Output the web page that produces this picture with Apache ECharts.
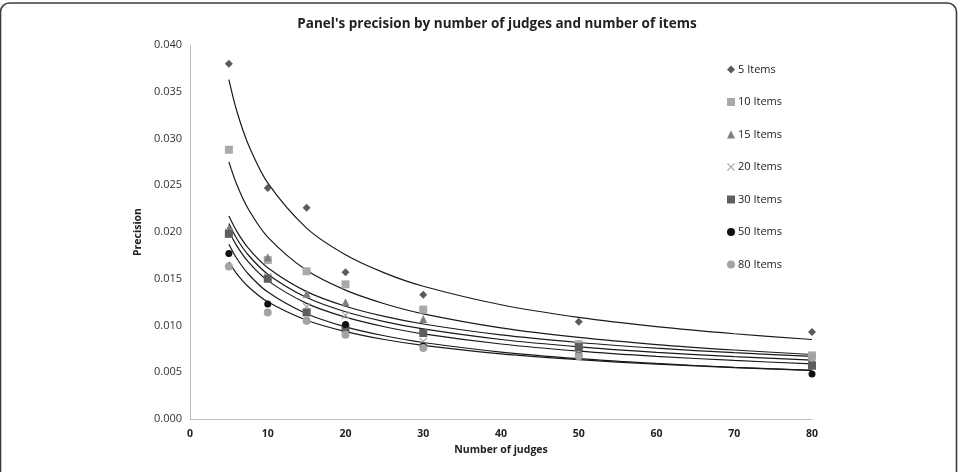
<!DOCTYPE html>
<html>
<head>
<meta charset="utf-8">
<script src="https://cdn.jsdelivr.net/npm/echarts@6/dist/echarts.min.js"></script>
<style>
  html, body { margin: 0; padding: 0; background: #fff; }
  #main { width: 963px; height: 472px; }
</style>
</head>
<body>
<div id="main"></div>
<script>
// number of judges where panels were measured
var judges = [5, 10, 15, 20, 30, 50, 80];

// measured precision, one list per number of items
var items5  = [0.0380, 0.0247, 0.0226, 0.0157, 0.0133, 0.0104, 0.0093];
var items10 = [0.0288, 0.0170, 0.0158, 0.0144, 0.0117, 0.0080, 0.0068];
var items15 = [0.0204, 0.0173, 0.0134, 0.0125, 0.0107, 0.0074, 0.0065];
var items20 = [0.0200, 0.0152, 0.0120, 0.0111, 0.0083, 0.0072, 0.0061];
var items30 = [0.0198, 0.0150, 0.0114, 0.0097, 0.0092, 0.0077, 0.0057];
var items50 = [0.0177, 0.0123, 0.0105, 0.0101, 0.0078, 0.0068, 0.0048];
var items80 = [0.0163, 0.0114, 0.0105, 0.0090, 0.0076, 0.0067, 0.0066];

// trend lines at these x positions
var trendX = [5, 6, 7.5, 10, 15, 20, 25, 30, 40, 50, 60, 70, 80];
var trend5  = [0.0363, 0.03299, 0.02936, 0.02525, 0.02042, 0.01757, 0.01563, 0.01420, 0.01222, 0.01087, 0.00988, 0.00912, 0.00850];
var trend10 = [0.0275, 0.02511, 0.02246, 0.01946, 0.01590, 0.01378, 0.01233, 0.01125, 0.00975, 0.00872, 0.00796, 0.00738, 0.00690];
var trend15 = [0.0217, 0.02009, 0.01827, 0.01618, 0.01362, 0.01206, 0.01097, 0.01016, 0.00899, 0.00818, 0.00757, 0.00709, 0.00670];
var trend20 = [0.0209, 0.01931, 0.01754, 0.01549, 0.01299, 0.01147, 0.01042, 0.00963, 0.00850, 0.00772, 0.00713, 0.00667, 0.00630];
var trend30 = [0.0201, 0.01854, 0.01680, 0.01480, 0.01237, 0.01089, 0.00987, 0.00910, 0.00802, 0.00726, 0.00670, 0.00626, 0.00590];
var trend50 = [0.0187, 0.01719, 0.01551, 0.01358, 0.01126, 0.00986, 0.00890, 0.00818, 0.00716, 0.00646, 0.00594, 0.00553, 0.00520];
var trend80 = [0.0168, 0.01555, 0.01415, 0.01253, 0.01056, 0.00935, 0.00850, 0.00787, 0.00697, 0.00634, 0.00587, 0.00550, 0.00520];

var names = ['5 Items', '10 Items', '15 Items', '20 Items', '30 Items', '50 Items', '80 Items'];
var pointSets = [items5, items10, items15, items20, items30, items50, items80];
var trendSets = [trend5, trend10, trend15, trend20, trend30, trend50, trend80];

var crossPath = 'path://M0,1L1,0L5,4L9,0L10,1L6,5L10,9L9,10L5,6L1,10L0,9L4,5Z';
var looks = [
  { symbol: 'diamond',  size: 8, color: '#5b5b5b' },
  { symbol: 'rect',     size: 8, color: '#a9a9a9' },
  { symbol: 'triangle', size: 8, color: '#7f7f7f' },
  { symbol: crossPath,  size: 8, color: '#a6a6a6' },
  { symbol: 'rect',     size: 8, color: '#5e5e5e' },
  { symbol: 'circle',   size: 7, color: '#111111' },
  { symbol: 'circle',   size: 8, color: '#a3a3a3' }
];

function pairs(xs, ys) {
  return xs.map(function (x, i) { return [x, ys[i]]; });
}

var series = [];
trendSets.forEach(function (t, i) {
  series.push({
    name: 'trend ' + names[i],
    type: 'line',
    data: pairs(trendX, t),
    smooth: 0.3,
    showSymbol: false,
    silent: true,
    z: 1,
    lineStyle: { color: '#1a1a1a', width: 1.2 }
  });
});
pointSets.forEach(function (p, i) {
  series.push({
    name: names[i],
    type: 'scatter',
    data: pairs(judges, p),
    symbol: looks[i].symbol,
    symbolSize: looks[i].size,
    z: 3,
    itemStyle: { color: looks[i].color, opacity: 1 }
  });
});

var chart = echarts.init(document.getElementById('main'));
chart.setOption({
  animation: false,
  backgroundColor: '#fff',
  textStyle: { fontFamily: 'Open Sans, Liberation Sans, sans-serif' },
  graphic: [{
    type: 'rect',
    shape: { x: 0.5, y: 3, width: 956, height: 520, r: 9 },
    style: { fill: 'none', stroke: '#3c3c3c', lineWidth: 1.6 },
    silent: true
  }],
  title: {
    text: "Panel's precision by number of judges and number of items",
    left: 492,
    textAlign: 'center',
    top: 12,
    textStyle: { fontSize: 13.5, fontWeight: 'bold', color: '#222', fontFamily: 'Open Sans, sans-serif' }
  },
  legend: {
    data: names.map(function (n, i) {
      return { name: n, icon: looks[i].symbol };
    }),
    orient: 'vertical',
    left: 722,
    top: 59,
    itemWidth: 8,
    itemHeight: 8,
    itemGap: 21.5,
    textStyle: { fontSize: 11, color: '#222', padding: [0, 0, 0, -2] }
  },
  grid: { left: 190, right: 151, top: 45, bottom: 53 },
  xAxis: {
    type: 'value',
    min: 0, max: 80, interval: 10,
    name: 'Number of judges',
    nameLocation: 'middle',
    nameGap: 26,
    nameTextStyle: { fontSize: 10.5, fontWeight: 'bold', color: '#222' },
    axisLine: { lineStyle: { color: '#bfbfbf', width: 1 } },
    axisTick: { show: false },
    splitLine: { show: false },
    axisLabel: { fontSize: 10.5, fontWeight: 'bold', color: '#222', margin: 10 }
  },
  yAxis: {
    type: 'value',
    min: 0, max: 0.04, interval: 0.005,
    name: 'Precision',
    nameLocation: 'middle',
    nameGap: 44,
    nameTextStyle: { fontSize: 10.5, fontWeight: 'bold', color: '#222' },
    axisLine: { show: true, lineStyle: { color: '#bfbfbf', width: 1 } },
    axisTick: { show: false },
    splitLine: { show: false },
    axisLabel: {
      fontSize: 11, color: '#333', margin: 8,
      formatter: function (v) { return v.toFixed(3); }
    }
  },
  series: series
});
</script>
</body>
</html>
